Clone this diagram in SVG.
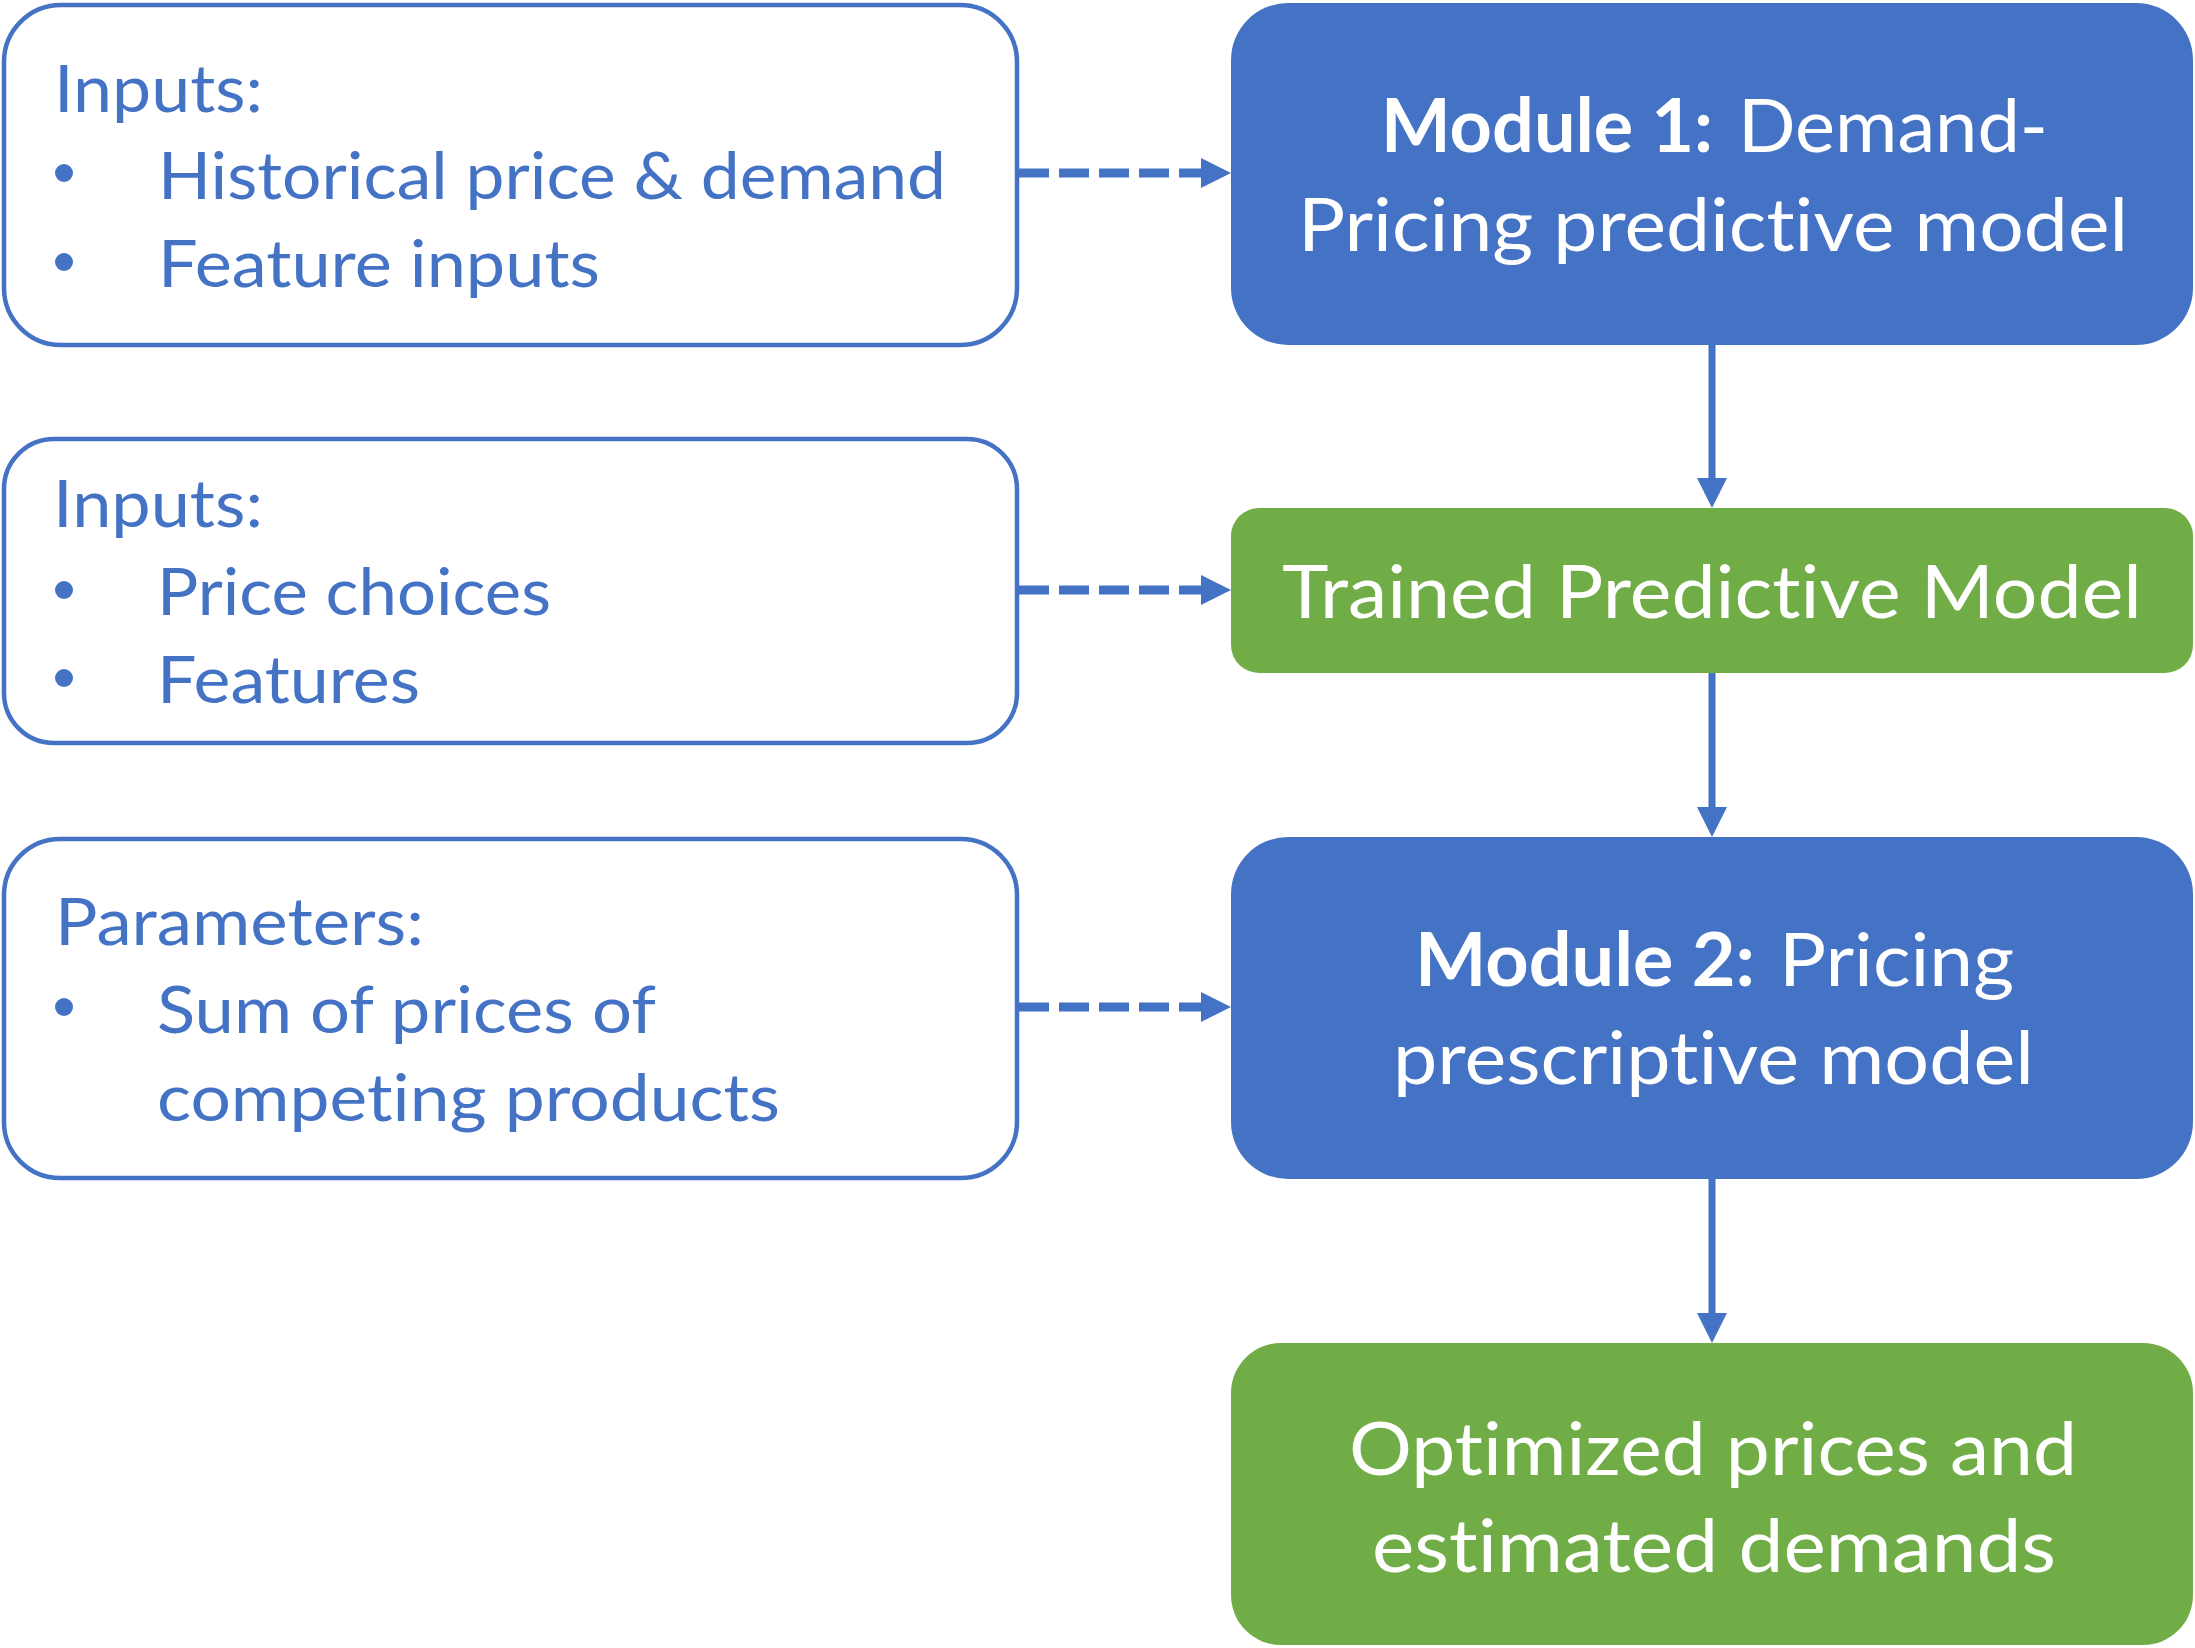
<svg xmlns="http://www.w3.org/2000/svg" width="2195" height="1648" viewBox="0 0 2195 1648">
<style>
.inbox{fill:#ffffff;stroke:#4472C4;stroke-width:4.5}
.blue{fill:#4472C4}
.green{fill:#70AD47}
text{font-variant-ligatures:none}
.lt{font-family:Lato,"Open Sans","Liberation Sans",sans-serif;font-size:66px;fill:#4472C4}
.rt{font-family:Lato,"Open Sans","Liberation Sans",sans-serif;font-size:74px;fill:#ffffff}
.b{font-weight:bold}
.bul{fill:#4472C4}
.solid{stroke:#4472C4;stroke-width:7;fill:none}
.dash{stroke:#4472C4;stroke-width:9;fill:none;stroke-dasharray:30 10}
</style>
<defs>
<marker id="ah" markerUnits="userSpaceOnUse" markerWidth="30" markerHeight="30" viewBox="0 0 30 30" refX="2" refY="15" orient="auto">
<path d="M0,0 L30,15 L0,30 Z" fill="#4472C4"/>
</marker>
</defs>
<g id="connectors">
<line class="dash" x1="1019" y1="173" x2="1203" y2="173" marker-end="url(#ah)"/>
<line class="dash" x1="1019" y1="590" x2="1203" y2="590" marker-end="url(#ah)"/>
<line class="dash" x1="1019" y1="1007" x2="1203" y2="1007" marker-end="url(#ah)"/>
<line class="solid" x1="1712" y1="345" x2="1712" y2="480" marker-end="url(#ah)"/>
<line class="solid" x1="1712" y1="673" x2="1712" y2="809" marker-end="url(#ah)"/>
<line class="solid" x1="1712" y1="1179" x2="1712" y2="1315" marker-end="url(#ah)"/>
</g>
<g id="inputs1">
<rect class="inbox" x="4" y="5" width="1013" height="340" rx="57" ry="57"/>
<text class="lt" x="54" y="112" textLength="209" lengthAdjust="spacingAndGlyphs">Inputs:</text>
<circle class="bul" cx="64" cy="173" r="9"/>
<text class="lt" x="158" y="199" textLength="788" lengthAdjust="spacingAndGlyphs">Historical price &amp; demand</text>
<circle class="bul" cx="64" cy="262" r="9"/>
<text class="lt" x="158" y="287" textLength="442" lengthAdjust="spacingAndGlyphs">Feature inputs</text>
</g>
<g id="inputs2">
<rect class="inbox" x="4" y="439" width="1013" height="304" rx="50" ry="50"/>
<text class="lt" x="53" y="527" textLength="210" lengthAdjust="spacingAndGlyphs">Inputs:</text>
<circle class="bul" cx="64" cy="590" r="9"/>
<text class="lt" x="157" y="615" textLength="394" lengthAdjust="spacingAndGlyphs">Price choices</text>
<circle class="bul" cx="64" cy="678" r="9"/>
<text class="lt" x="157" y="703" textLength="263" lengthAdjust="spacingAndGlyphs">Features</text>
</g>
<g id="parameters">
<rect class="inbox" x="4" y="839" width="1013" height="339" rx="56" ry="56"/>
<text class="lt" x="55" y="945" textLength="369" lengthAdjust="spacingAndGlyphs">Parameters:</text>
<circle class="bul" cx="64" cy="1007" r="9"/>
<text class="lt" x="157" y="1033" textLength="499" lengthAdjust="spacingAndGlyphs">Sum of prices of</text>
<text class="lt" x="157" y="1121" textLength="623" lengthAdjust="spacingAndGlyphs">competing products</text>
</g>
<g id="module1">
<rect class="blue" x="1231" y="3" width="962" height="342" rx="57" ry="57"/>
<text class="rt" y="152"><tspan class="b" x="1381" textLength="332" lengthAdjust="spacingAndGlyphs">Module 1:</tspan><tspan x="1738" textLength="310" lengthAdjust="spacingAndGlyphs">Demand-</tspan></text>
<text class="rt" x="1298" y="251" textLength="830" lengthAdjust="spacingAndGlyphs">Pricing predictive model</text>
</g>
<g id="trained">
<rect class="green" x="1231" y="508" width="962" height="165" rx="28" ry="28"/>
<text class="rt" x="1282" y="618" textLength="860" lengthAdjust="spacingAndGlyphs">Trained Predictive Model</text>
</g>
<g id="module2">
<rect class="blue" x="1231" y="837" width="962" height="342" rx="57" ry="57"/>
<text class="rt" y="986"><tspan class="b" x="1415" textLength="340" lengthAdjust="spacingAndGlyphs">Module 2:</tspan><tspan x="1779" textLength="235" lengthAdjust="spacingAndGlyphs">Pricing</tspan></text>
<text class="rt" x="1393" y="1084" textLength="641" lengthAdjust="spacingAndGlyphs">prescriptive model</text>
</g>
<g id="optimized">
<rect class="green" x="1231" y="1343" width="962" height="302" rx="50" ry="50"/>
<text class="rt" x="1349" y="1475" textLength="728" lengthAdjust="spacingAndGlyphs">Optimized prices and</text>
<text class="rt" x="1372" y="1572" textLength="684" lengthAdjust="spacingAndGlyphs">estimated demands</text>
</g>
</svg>
